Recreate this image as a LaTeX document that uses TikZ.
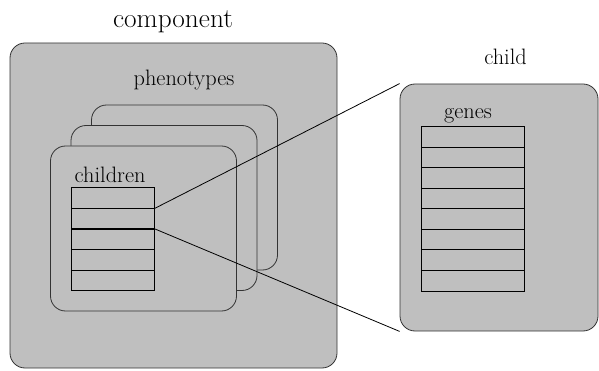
\documentclass[tikz,border=0pt]{standalone}
\usetikzlibrary{matrix, positioning}

\definecolor{boxgray}{RGB}{191,191,191}

\begin{document}
\begin{tikzpicture}[
		x=1pt, y=-1pt,
		line width=0.8pt,
		% Style for the grey rounded panels
		panel/.style={
			draw=black!80, fill=boxgray,
			rounded corners=15pt, inner sep=0pt
		},
		% Style for the slot tables (children, genes)
		slots/.style={
			matrix of nodes, nodes in empty cells,
			nodes={draw=black, fill=boxgray, minimum width=#1, minimum height=20.55pt, inner sep=0pt, outer sep=0pt, anchor=center},
			row sep=-\pgflinewidth,
			inner sep=0pt
		},
		titlenode/.style={font=\fontsize{27.3}{32}\selectfont, anchor=base},
		labelnode/.style={font=\fontsize{22.3}{26}\selectfont, anchor=base}
		]
		\useasboundingbox (0,0) rectangle (599,371);
		
		% --- 1. COMPONENT ---
		\node[titlenode] (lcomp) at (173,27.5) {component};
		\node[panel, minimum width=327pt, minimum height=325pt] (comp) at (173.5,205.5) {};
		\node[labelnode] (lpheno) at (184,86) {phenotypes};
		
		% stacked phenotypes, back to front
		\node[panel, minimum width=186pt, minimum height=165pt] (pheno3) at (184.5,187.5) {};
		\node[panel, minimum width=186pt, minimum height=165pt] (pheno2) at (164,208) {};
		\node[panel, minimum width=186pt, minimum height=165pt] (pheno1) at (143.5,228.5) {};
		
		\node[labelnode, anchor=base west] (lkids) at (71,183) {children};
		\matrix (kids) [slots=83pt, anchor=north west] at (71,187) {
			\\ \\ \\ \\ \\
		};
		
		% --- 2. CHILD ---
		\node[labelnode] (lchild) at (505.5,65) {child};
		\node[panel, minimum width=198pt, minimum height=247pt] (child) at (499,207.5) {};
		\node[labelnode] (lgenes) at (468,119) {genes};
		\matrix (genes) [slots=103pt, anchor=north west] at (421,125.7) {
			\\ \\ \\ \\ \\ \\ \\ \\
		};
		
		% --- ZOOM LINES ---
		\draw (kids-1-1.south east) -- (child.north west);
		\draw (kids-2-1.south east) -- (child.south west);
		
	\end{tikzpicture}
\end{document}
